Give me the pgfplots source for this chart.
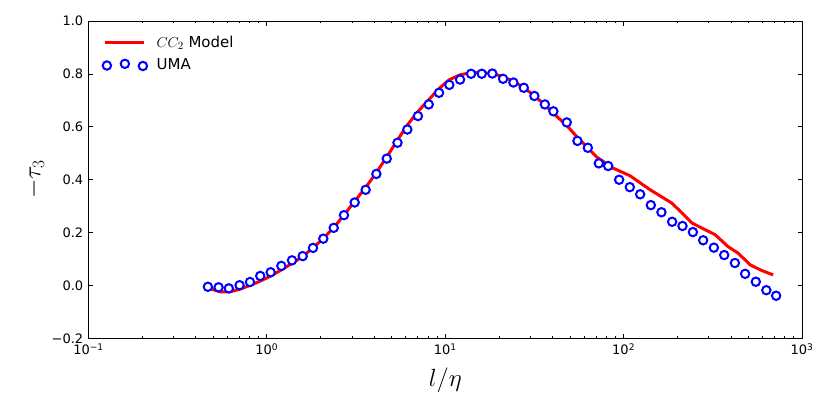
\documentclass[border=0pt]{standalone}
\usepackage[no-math]{fontspec}
\setmainfont{DejaVu Sans}
\usepackage{pgfplots}
\usepackage{pgfplotstable}
\pgfplotsset{compat=1.18}

\pgfplotstableread{
x y
0.480 -0.012
0.546 -0.024
0.621 -0.024
0.707 -0.014
0.804 0.000
0.915 0.016
1.04 0.034
1.2 0.058
1.38 0.083
1.59 0.110
1.81 0.142
2.06 0.176
2.38 0.220
2.70 0.266
3.12 0.320
3.59 0.372
4.09 0.425
4.71 0.487
5.36 0.547
6.10 0.605
7.03 0.658
8.01 0.700
9.23 0.745
10.5 0.778
12.1 0.797
13.9 0.805
16.0 0.806
18.3 0.802
21.1 0.790
24.0 0.773
27.7 0.748
31.5 0.718
36.3 0.683
40.3 0.652
48.2 0.604
54.8 0.562
63.1 0.520
71.0 0.485
87.3 0.444
108.7 0.415
140.8 0.362
187 0.311
242 0.236
326 0.192
385 0.147
439 0.122
512 0.078
597 0.056
689 0.040
}\modeltable

\pgfplotstableread{
x y
0.467 -0.005
0.536 -0.007
0.612 -0.011
0.703 0.001
0.804 0.013
0.918 0.036
1.050 0.050
1.205 0.074
1.383 0.095
1.588 0.111
1.813 0.142
2.072 0.177
2.370 0.218
2.706 0.266
3.107 0.314
3.58 0.362
4.11 0.422
4.70 0.480
5.40 0.540
6.13 0.590
7.03 0.641
8.08 0.685
9.23 0.729
10.54 0.759
12.11 0.779
13.96 0.801
16.02 0.801
18.37 0.802
21.09 0.782
24.10 0.768
27.56 0.748
31.6 0.717
36.2 0.685
40.4 0.659
48.0 0.617
55.1 0.547
63.0 0.521
72.6 0.462
81.9 0.452
94.4 0.400
108.3 0.372
123.8 0.345
142.1 0.304
162.9 0.277
187.1 0.241
213.8 0.225
244.5 0.202
279.2 0.171
320.6 0.143
366.4 0.115
420.6 0.085
479.9 0.044
551.0 0.014
631.0 -0.018
716.1 -0.039
}\umatable

\begin{document}
\begin{tikzpicture}
\path[use as bounding box] (-88.5pt,-76.7pt) rectangle (741.5pt,338.3pt);
\begin{axis}[
  at={(0pt,0pt)}, anchor=south west,
  scale only axis, width=713.5pt, height=317.1pt,
  xmode=log, xmin=0.1, xmax=1000, ymin=-0.2, ymax=1.0,
  xtick={0.1,1,10,100,1000},
  xticklabels={10\textsuperscript{−1},10\textsuperscript{0},10\textsuperscript{1},10\textsuperscript{2},10\textsuperscript{3}},
  ytick={-0.2,0,0.2,0.4,0.6,0.8,1.0},
  yticklabels={−0.2,0.0,0.2,0.4,0.6,0.8,1.0},
  tick align=inside,
  major tick length=4.5pt,
  minor tick length=2.3pt,
  every tick/.style={black, line width=0.8pt},
  axis line style={black, line width=1pt},
  ticklabel style={font=\fontsize{13}{15}\selectfont},
  yticklabel style={xshift=-1.7pt},
  xticklabel style={yshift=-2pt},
  xlabel={$l/\eta$},
  ylabel={$-\tau_3$},
  label style={font=\fontsize{24}{28}\selectfont},
  xlabel style={at={(axis description cs:0.5,-0.1315)}, anchor=center},
  ylabel style={at={(axis description cs:-0.075,0.5)}, anchor=center, rotate=0},
  legend cell align=left,
  legend style={at={(axis description cs:0,1)}, anchor=north west,
    xshift=10pt, yshift=-10.5pt, draw=none, fill=none,
    font=\fontsize{15}{17}\selectfont, row sep=6pt,
    /tikz/every odd column/.append style={column sep=6.5pt}},
]
\addplot[red, line width=3pt, no marks,
  legend image code/.code={\draw[red, line width=3pt] (0pt,0pt) -- (39pt,0pt);}]
  table[x=x,y=y] {\modeltable};
\addlegendentry{$CC_2$ Model}
\addplot[only marks, mark=*, mark size=4.2pt,
  mark options={draw=blue, fill=white, line width=2pt},
  legend image code/.code={\draw[blue, line width=2pt, fill=white] (1.7pt,-0.5pt) circle[radius=4.2pt] (19.7pt,1.2pt) circle[radius=4.2pt] (37.7pt,-1pt) circle[radius=4.2pt];}]
  table[x=x,y=y] {\umatable};
\addlegendentry{UMA}
\end{axis}
\end{tikzpicture}
\end{document}
